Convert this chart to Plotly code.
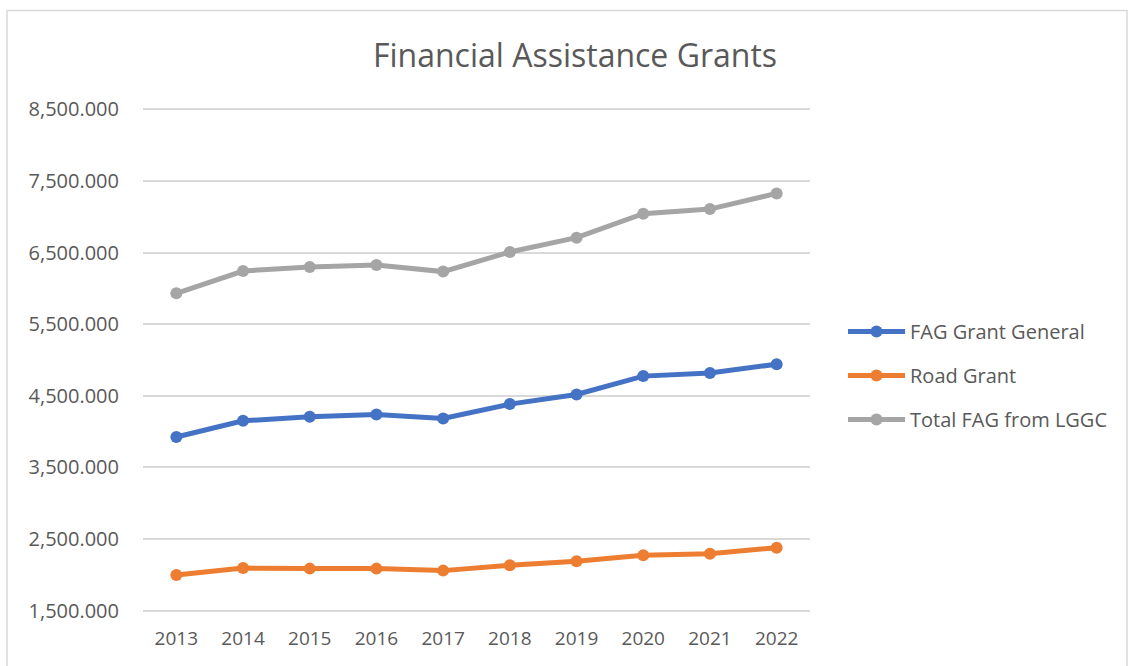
import plotly.graph_objects as go

years = ["2013", "2014", "2015", "2016", "2017", "2018", "2019", "2020", "2021", "2022"]
fag_general = [3924, 4151, 4206, 4239, 4183, 4384, 4519, 4775, 4817, 4942]
road_grant = [1997, 2094, 2086, 2086, 2058, 2132, 2188, 2271, 2295, 2379]
total_fag = [5932, 6243, 6299, 6327, 6235, 6508, 6709, 7044, 7108, 7327]
y_ticks = [1500, 2500, 3500, 4500, 5500, 6500, 7500, 8500]

series = [
    ("FAG Grant General", fag_general, "#4472C4"),
    ("Road Grant", road_grant, "#ED7D31"),
    ("Total FAG from LGGC", total_fag, "#A5A5A5"),
]

fig = go.Figure()
for i, (name, vals, col) in enumerate(series):
    fig.add_trace(go.Scatter(
        x=years, y=vals, name=name, mode="lines+markers",
        line=dict(color=col, width=5),
        marker=dict(color=col, size=12),
        legendgroup=str(i),
    ))

W, H = 1129, 666
L, R = 143, 810
T, B = 107.6, 612.4
fig.update_layout(
    width=W, height=H,
    margin=dict(l=L, r=W - R, t=T, b=H - B),
    paper_bgcolor="white", plot_bgcolor="white",
    font=dict(family="Open Sans, Noto Sans, sans-serif", color="#595959", size=19),
    title=dict(text="Financial Assistance Grants", x=575 / W, xanchor="center",
               y=1 - 56 / H, yanchor="middle",
               font=dict(size=32, color="#595959", family="Open Sans, sans-serif")),
    xaxis=dict(type="category", range=[-0.5, 9.5], showgrid=False, showline=False,
               zeroline=False, ticks="", ticklabelstandoff=13,
               tickfont=dict(size=19, color="#595959")),
    yaxis=dict(range=[1480, 8520], tickvals=y_ticks, tickformat=",.3f",
               showgrid=True, gridcolor="#D9D9D9", gridwidth=1.5, zeroline=False,
               showline=False, ticks="", ticklabelstandoff=23,
               tickfont=dict(size=20, color="#595959")),
    legend=dict(x=(843 - L) / (R - L), xanchor="left", y=(B - 312) / (B - T),
                yanchor="top", font=dict(size=20, color="#595959"),
                tracegroupgap=15, itemwidth=57, bgcolor="rgba(0,0,0,0)"),
    showlegend=True,
)
fig.add_shape(type="rect", xref="paper", yref="paper",
              x0=(7 - L) / (R - L), x1=(1127 - L) / (R - L),
              y0=(B - 690) / (B - T), y1=(B - 10) / (B - T),
              line=dict(color="#D9D9D9", width=1.5), fillcolor="rgba(0,0,0,0)", layer="below")

fig.write_html("out.html")
